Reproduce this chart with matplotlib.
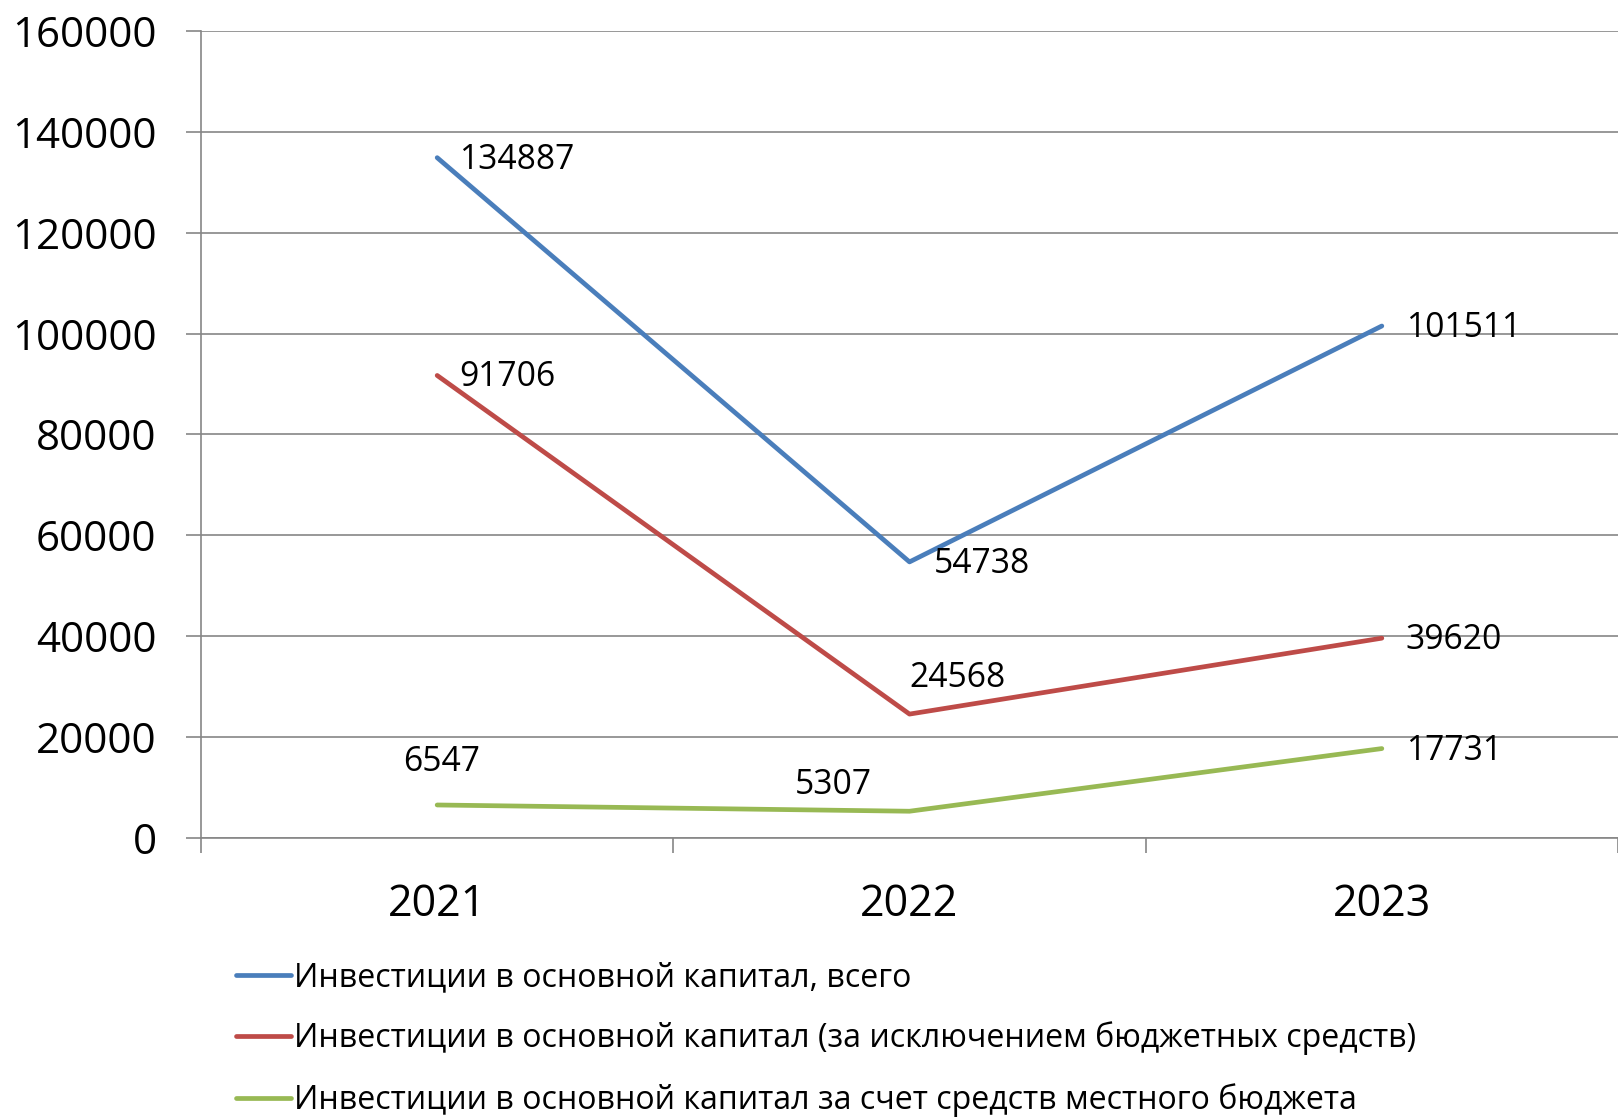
import numpy as np
import matplotlib.pyplot as plt
from matplotlib.ticker import FixedLocator

# Данные: инвестиции в основной капитал по годам
years = ['2021', '2022', '2023']
total = [134887, 54738, 101511]
non_budget = [91706, 24568, 39620]
local_budget = [6547, 5307, 17731]

labels = ['Инвестиции в основной капитал, всего',
          'Инвестиции в основной капитал (за исключением бюджетных средств)',
          'Инвестиции в основной капитал за счет средств местного бюджета']
colors = ['#4A7EBB', '#BE4B48', '#98B954']

# смещения подписей данных (в пикселях) для каждого ряда
offsets = [
    [(22, -2, 'left'), (24, -2, 'left'), (24, -2, 'left')],
    [(22, -2, 'left'), (48, 36, 'center'), (24, -2, 'left')],
    [(4, 43, 'center'), (-76, 26, 'center'), (24, -2, 'left')],
]

plt.rcParams['font.family'] = ['Open Sans', 'DejaVu Sans']

fig = plt.figure(figsize=(16.18, 11.17), dpi=100)
ax = fig.add_axes([201 / 1618, 1 - 838 / 1117, 1 - 201 / 1618, (838 - 31) / 1117])

x = np.arange(len(years))
series = [total, non_budget, local_budget]
for vals, lab, col, offs in zip(series, labels, colors, offsets):
    ax.plot(x, vals, color=col, lw=3.4, label=lab, solid_capstyle='round')
    for xi, v, (dx, dy, ha) in zip(x, vals, offs):
        ax.annotate(str(v), (xi, v), xytext=(dx, dy), textcoords='offset pixels',
                    ha=ha, va='center', fontsize=24.2, color='black')

ax.set_xlim(-0.5, 2.5)
ax.set_ylim(0, 160000)
ax.set_yticks(np.arange(0, 160001, 20000))
ax.tick_params(axis='y', labelsize=30.3, length=11, width=1.2, color='#868686', pad=21)
ax.grid(axis='y', color='#868686', lw=1.2)
ax.set_axisbelow(True)

ax.set_xticks(x)
ax.set_xticklabels(years)
ax.tick_params(axis='x', which='major', labelsize=31, length=0, pad=32)
ax.xaxis.set_minor_locator(FixedLocator([-0.5, 0.5, 1.5, 2.5]))
ax.tick_params(axis='x', which='minor', length=11, width=1.2, color='#868686')

for s in ['top', 'right']:
    ax.spines[s].set_visible(False)
ax.spines['left'].set_color('#868686')
ax.spines['bottom'].set_color('#868686')
ax.spines['left'].set_linewidth(1.2)
ax.spines['bottom'].set_linewidth(1.2)

fig.legend(loc='upper left', bbox_to_anchor=(236 / 1618, 1 - 961 / 1117),
           frameon=False, fontsize=23.1, handlelength=1.72, handletextpad=0.1,
           labelspacing=0.86, borderpad=0, borderaxespad=0)

fig.savefig('out.png', dpi=100)
